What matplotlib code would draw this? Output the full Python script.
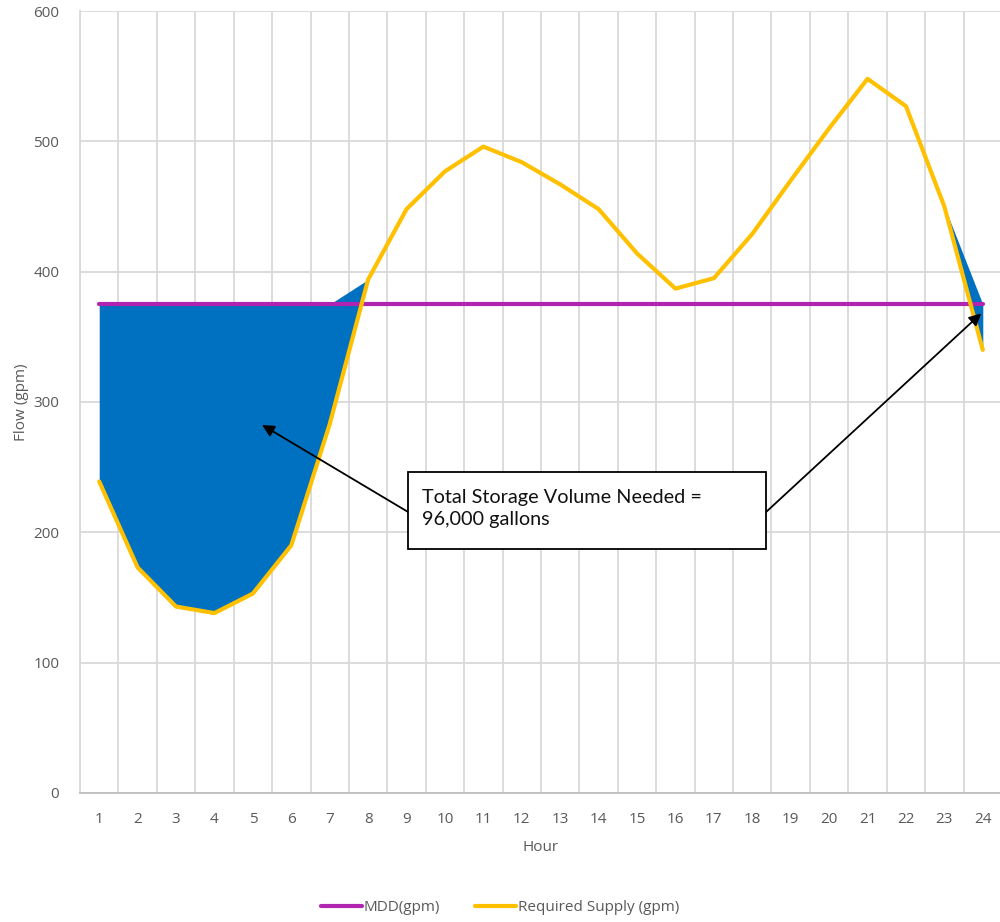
import numpy as np
import matplotlib
matplotlib.use("Agg")
import matplotlib.pyplot as plt
from matplotlib.patches import Rectangle

hours = list(range(1, 25))
supply = [239, 173, 143, 138, 153, 190, 283, 394, 448, 477, 496, 484,
          467, 448, 414, 387, 395, 429, 470, 510, 548, 527, 450, 340]
mdd = [375] * 24
note = "Total Storage Volume Needed =\n96,000 gallons"

plt.rcParams['font.family'] = ['Open Sans', 'DejaVu Sans']
gray = "#595959"

fig = plt.figure(figsize=(10, 9.22), dpi=100)
ax = fig.add_axes([0.08, 0.14, 0.922, 0.848])

x = np.array(hours)
sup = np.array(supply)
upper = np.maximum(sup, np.array(mdd))

# storage area between supply and MDD
ax.fill_between(x, sup, upper, color="#0070C0", lw=0, zorder=2)
ax.plot(x, mdd, color="#B124B1", lw=3, label="MDD(gpm)", zorder=3,
        solid_capstyle="round")
ax.plot(x, supply, color="#FFC000", lw=3, label="Required Supply (gpm)",
        zorder=4, solid_capstyle="round")

ax.set_xlim(0.5, 24.5)
ax.set_ylim(0, 600)
ax.set_xticks(hours)
ax.set_xticks(np.arange(0.5, 25, 1), minor=True)
ax.set_yticks(range(0, 601, 100))
ax.grid(True, which="minor", axis="x", color="#D9D9D9", lw=1.3, zorder=0)
ax.grid(True, which="major", axis="y", color="#D9D9D9", lw=1.3, zorder=0)
ax.set_axisbelow(True)
ax.tick_params(which="both", length=0)
ax.tick_params(axis="x", pad=14, labelsize=11, labelcolor=gray)
ax.tick_params(axis="y", pad=15, labelsize=11, labelcolor=gray)

for s in ["top", "right"]:
    ax.spines[s].set_visible(False)
ax.spines["left"].set_color("#D9D9D9")
ax.spines["left"].set_linewidth(1.3)
ax.spines["bottom"].set_color("#BFBFBF")
ax.spines["bottom"].set_linewidth(1.3)

ax.set_xlabel("Hour", fontsize=11, color=gray, labelpad=9)
ax.set_ylabel("Flow (gpm)", fontsize=11, color=gray, labelpad=3)

# note box and arrows
box = Rectangle((9.04, 187.2), 9.32, 59.1, facecolor="white",
                edgecolor="black", lw=1.3, zorder=6)
ax.add_patch(box)
ax.text(9.41, 218.5, note, fontsize=14.3, family=["Lato", "DejaVu Sans"],
        va="center", ha="left", linespacing=1.35, color="#111111", zorder=7)
arrow = dict(arrowstyle="-|>", color="black", lw=1.3, mutation_scale=18,
             shrinkA=0, shrinkB=0)
ax.annotate("", xy=(5.24, 282.4), xytext=(9.04, 215.6), arrowprops=arrow,
            zorder=5)
ax.annotate("", xy=(23.96, 368), xytext=(18.36, 215.6), arrowprops=arrow,
            zorder=5)

fig.legend(loc="center", bbox_to_anchor=(0.5, 0.0152), ncol=2,
           frameon=False, fontsize=11, labelcolor=gray, handlelength=2.7,
           handletextpad=0.1, columnspacing=2.3)

fig.savefig("out.png", dpi=100)
